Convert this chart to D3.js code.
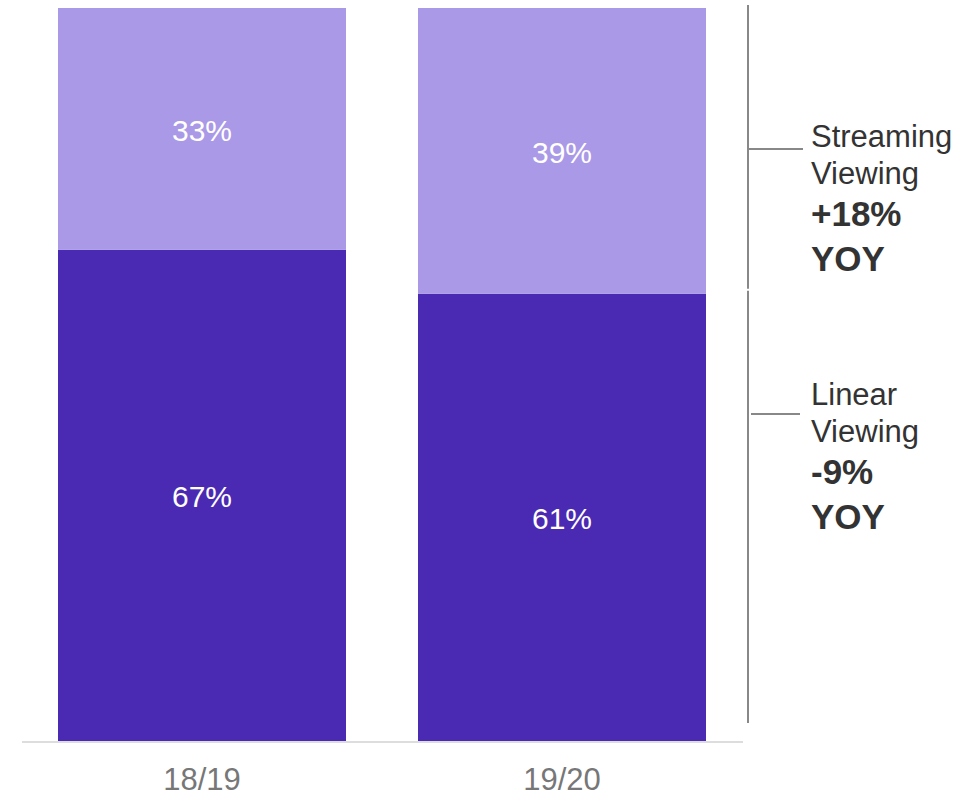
<!DOCTYPE html>
<html>
<head>
<meta charset="utf-8">
<script src="https://cdn.jsdelivr.net/npm/d3@7"></script>
<style>
  body { margin: 0; background: #fff; }
  svg text { font-family: "Liberation Sans", Arial, Helvetica, sans-serif; }
</style>
</head>
<body>
<div id="chart"></div>
<script>
const seasons = ["18/19", "19/20"]
const linear = [67, 61]
const streaming = [33, 39]
const notes = [
  { key: "streaming", lines: ["Streaming", "Viewing"], bold: ["+18%", "YOY"] },
  { key: "linear", lines: ["Linear", "Viewing"], bold: ["-9%", "YOY"] }
]

const width = 971
const height = 794
const colors = { linear: "#4a2ab2", streaming: "#aa99e6" }

const svg = d3.select("#chart")
  .append("svg")
  .attr("width", width)
  .attr("height", height)

const x = d3.scaleBand().domain(seasons).range([22, 742]).paddingInner(0.2).paddingOuter(0.1)
const y = d3.scaleLinear().domain([0, 100]).range([741, 8])

// stack the two series
const rows = seasons.map((s, i) => ({ season: s, linear: linear[i], streaming: streaming[i] }))
const stacked = d3.stack().keys(["linear", "streaming"])(rows)

const layer = svg.append("g")
  .selectAll("g")
  .data(stacked)
  .join("g")
  .attr("fill", d => colors[d.key])

layer.selectAll("rect")
  .data(d => d)
  .join("rect")
  .attr("x", d => x(d.data.season))
  .attr("width", x.bandwidth())
  .attr("y", d => y(d[1]))
  .attr("height", d => y(d[0]) - y(d[1]))

layer.selectAll("text")
  .data(d => d)
  .join("text")
  .attr("x", d => x(d.data.season) + x.bandwidth() / 2)
  .attr("y", d => (y(d[0]) + y(d[1])) / 2)
  .attr("dy", "0.4em")
  .attr("text-anchor", "middle")
  .attr("fill", "#fff")
  .style("font-size", "30px")
  .text(d => (d[1] - d[0]) + "%")

// baseline + category labels
const xAxis = svg.append("g")
  .attr("transform", "translate(0," + y(0) + ")")
  .call(d3.axisBottom(x).tickSize(0).tickPadding(27))
xAxis.select(".domain").attr("stroke", "#dddddd").attr("stroke-width", 2).attr("d", "M22,1H743")
xAxis.selectAll("text")
  .attr("fill", "#777")
  .style("font-size", "31px")
  .style("font-family", "'Liberation Sans', Arial, sans-serif")

// bracket annotations on the right
const last = rows[rows.length - 1]
const spans = {
  linear: [y(0) - 18, y(last.linear) - 3],
  streaming: [y(last.linear) - 5, y(100) - 3]
}
const bx = 748
const ann = svg.append("g").attr("stroke", "#888").attr("stroke-width", 2)
notes.forEach(n => {
  const [y0, y1] = spans[n.key]
  ann.append("line").attr("x1", bx).attr("x2", bx).attr("y1", y0).attr("y2", y1)
})
ann.append("line").attr("x1", bx).attr("x2", 803).attr("y1", 149).attr("y2", 149)
ann.append("line").attr("x1", bx + 3).attr("x2", 800).attr("y1", 414).attr("y2", 414)

const noteTop = { streaming: 147, linear: 405 }
const lineOffsets = [0, 37]
const boldOffsets = [79, 124]
notes.forEach(n => {
  const t = svg.append("text")
    .attr("x", 811)
    .attr("y", noteTop[n.key])
    .attr("fill", "#333")
  n.lines.forEach((l, i) => {
    t.append("tspan").attr("x", 811).attr("y", noteTop[n.key] + lineOffsets[i])
      .style("font-size", "31px").text(l)
  })
  n.bold.forEach((l, i) => {
    t.append("tspan").attr("x", 811).attr("y", noteTop[n.key] + boldOffsets[i])
      .style("font-size", "35px").style("font-weight", "bold").text(l)
  })
})
</script>
</body>
</html>
